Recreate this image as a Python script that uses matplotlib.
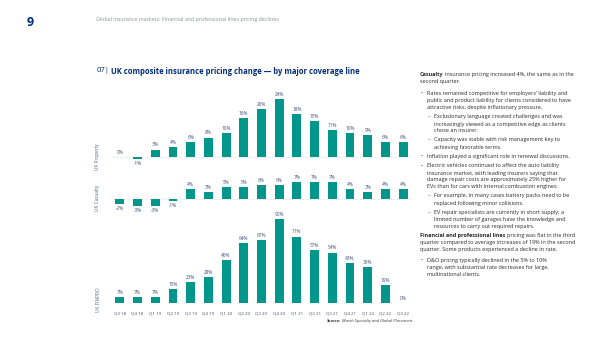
import matplotlib
matplotlib.use("Agg")
import matplotlib.pyplot as plt

# quarters and pricing change (%) per coverage line
quarters = ["Q3 18", "Q4 18", "Q1 19", "Q2 19", "Q3 19", "Q4 19", "Q1 20", "Q2 20", "Q3 20",
            "Q4 20", "Q1 21", "Q2 21", "Q3 21", "Q4 21", "Q1 22", "Q2 22", "Q3 22"]
property_chg = [0, -1, 3, 4, 6, 8, 10, 16, 20, 24, 18, 15, 11, 10, 9, 6, 6]
casualty_chg = [-2, -3, -3, -1, 4, 3, 5, 5, 6, 6, 7, 7, 7, 4, 3, 4, 4]
finpro_chg = [7, 7, 7, 15, 23, 28, 46, 64, 67, 90, 71, 57, 54, 43, 39, 19, 0]
panel_names = ["UK Property", "UK Casualty", "UK FINPRO"]

W, H = 600, 337
TEAL = "#00968C"
NAVY = "#002C77"
LABEL = "#44527a"

plt.rcParams["font.family"] = ["Open Sans", "DejaVu Sans"]
fig = plt.figure(figsize=(6, 3.37), dpi=100)
renderer = fig.canvas.get_renderer()


def fx(x):
    return x / W


def fy(y):
    return 1 - y / H


def panel(values, top, bottom, base, ppu, show_ticks=False):
    # axes placed in pixel coords, y scale given as pixels per percent
    left, right = 111, 412
    ax = fig.add_axes([fx(left), fy(bottom), (right - left) / W, (bottom - top) / H])
    ax.set_xlim(-0.5, len(quarters) - 0.5)
    ax.set_ylim(-(bottom - base) / ppu, (base - top) / ppu)
    bars = ax.bar(range(len(quarters)), values, width=0.5, color=TEAL)
    ax.bar_label(bars, labels=[f"{v}%" for v in values], padding=1.5,
                 fontsize=3.4, color=LABEL)
    ax.axhline(0, color="#d5d9e0", lw=0.5, ls=(0, (1, 1)), zorder=0)
    for s in ax.spines.values():
        s.set_visible(False)
    ax.set_yticks([])
    if show_ticks:
        ax.set_xticks(range(len(quarters)))
        ax.set_xticklabels(quarters, fontsize=3.2, color=LABEL)
        ax.tick_params(axis="x", length=0, pad=6)
    else:
        ax.set_xticks([])
    ax.patch.set_alpha(0)
    return ax


panel(property_chg, 92, 172, 156.7, 2.39)
panel(casualty_chg, 175, 212, 199, 2.39)
panel(finpro_chg, 212, 303.3, 303.3, 0.94, show_ticks=True)

for name, yc in zip(panel_names, [157, 198, 300]):
    fig.text(fx(98), fy(yc), name, rotation=90, ha="center", va="center",
             fontsize=3.4, color="#5a6786")


def runs(x, y, parts, size, color="#2b2b2b"):
    for txt, weight, style in parts:
        t = fig.text(fx(x), fy(y), txt, fontsize=size, fontweight=weight,
                     fontstyle=style, color=color, va="center", ha="left")
        x = t.get_window_extent(renderer).x1 + 1.3
    return x


# header
fig.text(fx(30), fy(22), "9", fontsize=9, fontweight="bold", color=NAVY,
         ha="center", va="center")
fig.text(fx(96.5), fy(20), "Global insurance markets: Financial and professional lines pricing declines",
         fontsize=3.8, color="#8a8f99", va="center")

# title
runs(97, 71, [("07|", "normal", "normal"),
              ("UK composite insurance pricing change \u2014 by major coverage line", "bold", "normal")],
     5.5, color=NAVY)

# source
t = fig.text(fx(412), fy(321), "Marsh Specialty and Global Placement", fontsize=3.0,
             fontstyle="italic", color="#333333", ha="right", va="center")
x0 = t.get_window_extent(renderer).x0 - 1
fig.text(fx(x0), fy(321), "Source:", fontsize=3.0, fontweight="bold",
         fontstyle="italic", color="#333333", ha="right", va="center")

# commentary column
BODY = 3.95
para_x, bul_x, bul_tx, dash_x, dash_tx = 420, 421, 426.7, 428, 434
body = [
    ("p", 74.3, [("Casualty", "bold", "normal"),
                 ("insurance pricing increased 4%, the same as in the", "normal", "normal")]),
    ("c", 81.7, "second quarter."),
    ("b", 93.3, "Rates remained competitive for employers\u2019 liability and"),
    ("bc", 100.7, "public and product liability for clients considered to have"),
    ("bc", 107.7, "attractive risks, despite inflationary pressure."),
    ("d", 116.7, "Exclusionary language created challenges and was"),
    ("dc", 124, "increasingly viewed as a competitive edge as clients"),
    ("dc", 130.7, "chose an insurer."),
    ("d", 140, "Capacity was stable with risk management key to"),
    ("dc", 147, "achieving favorable terms."),
    ("b", 156.7, "Inflation played a significant role in renewal discussions."),
    ("b", 166, "Electric vehicles continued to affect the auto liability"),
    ("bc", 173, "insurance market, with leading insurers saying that"),
    ("bc", 180, "damage repair costs are approximately 25% higher for"),
    ("bc", 187, "EVs than for cars with internal combustion engines."),
    ("d", 196, "For example, in many cases battery packs need to be"),
    ("dc", 203, "replaced following minor collisions."),
    ("d", 212.7, "EV repair specialists are currently in short supply; a"),
    ("dc", 219.5, "limited number of garages have the knowledge and"),
    ("dc", 226.7, "resources to carry out required repairs."),
    ("p", 235.7, [("Financial and professional lines", "bold", "normal"),
                  ("pricing was flat in the third", "normal", "normal")]),
    ("c", 242.7, "quarter compared to average increases of 19% in the second"),
    ("c", 249.7, "quarter. Some products experienced a decline in rate."),
    ("b", 260.7, "D&O pricing typically declined in the 5% to 10%"),
    ("bc", 267.7, "range, with substantial rate decreases for large,"),
    ("bc", 275, "multinational clients."),
]
for kind, y, content in body:
    if kind == "p":
        runs(para_x, y, content, BODY)
        continue
    if kind == "b":
        fig.text(fx(bul_x), fy(y), "\u2022", fontsize=BODY, color="#555555", va="center")
    if kind == "d":
        fig.text(fx(dash_x), fy(y), "\u2013", fontsize=BODY, color="#555555", va="center")
    xt = {"c": para_x, "b": bul_tx, "bc": bul_tx, "d": dash_tx, "dc": dash_tx}[kind]
    fig.text(fx(xt), fy(y), content, fontsize=BODY, color="#2b2b2b", va="center")

fig.savefig("out.png", dpi=100)
